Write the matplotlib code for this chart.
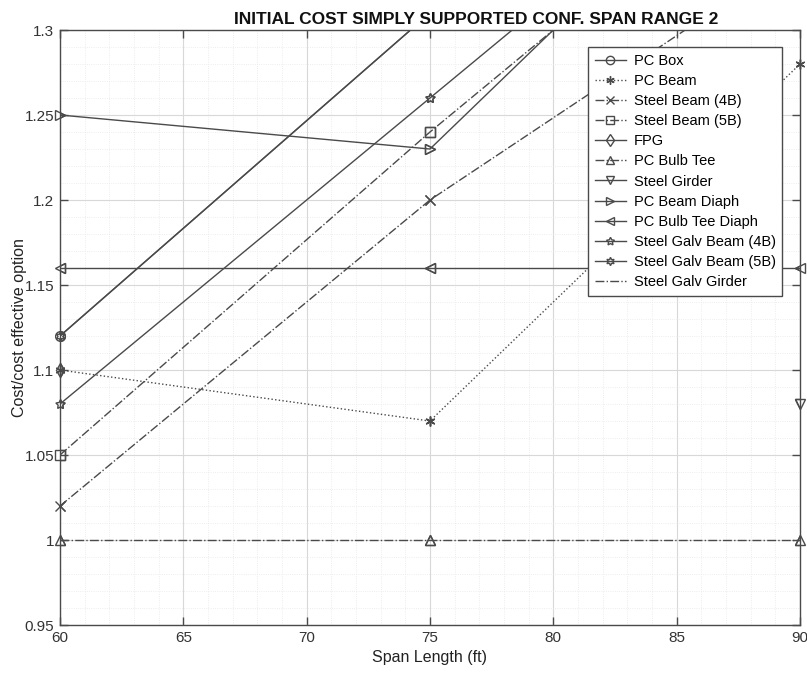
import numpy as np
import matplotlib
matplotlib.use("Agg")
import matplotlib.pyplot as plt

span = [60, 75, 90]
nan = np.nan

pc_box = [1.12, 1.31, 1.45]
pc_beam = [1.10, 1.07, 1.28]
steel_beam_4b = [1.02, 1.20, 1.345]
steel_beam_5b = [1.05, 1.24, 1.42]
fpg = [1.10, nan, nan]
pc_bulb_tee = [1.00, 1.00, 1.00]
steel_girder = [nan, nan, 1.08]
pc_beam_diaph = [1.25, 1.23, 1.44]
pc_bulb_tee_diaph = [1.16, 1.16, 1.16]
steel_galv_beam_4b = [1.08, 1.26, 1.44]
steel_galv_beam_5b = [1.12, 1.31, 1.45]
steel_galv_girder = [nan, nan, 1.35]

series = [
    ("PC Box", pc_box, "-", "o"),
    ("PC Beam", pc_beam, ":", (6, 2, 0)),
    ("Steel Beam (4B)", steel_beam_4b, "-.", "x"),
    ("Steel Beam (5B)", steel_beam_5b, "-.", "s"),
    ("FPG", fpg, "-", "d"),
    ("PC Bulb Tee", pc_bulb_tee, "-.", "^"),
    ("Steel Girder", steel_girder, "-", "v"),
    ("PC Beam Diaph", pc_beam_diaph, "-", ">"),
    ("PC Bulb Tee Diaph", pc_bulb_tee_diaph, "-", "<"),
    ("Steel Galv Beam (4B)", steel_galv_beam_4b, "-", (5, 1, 0)),
    ("Steel Galv Beam (5B)", steel_galv_beam_5b, "-", (6, 1, 0)),
    ("Steel Galv Girder", steel_galv_girder, "-.", None),
]

yticks = [0.95, 1.0, 1.05, 1.1, 1.15, 1.2, 1.25, 1.3]
ytick_labels = ["0.95", "1", "1.05", "1.1", "1.15", "1.2", "1.25", "1.3"]
xticks = [60, 65, 70, 75, 80, 85, 90]

plt.rcParams['font.family'] = ['Liberation Sans', 'DejaVu Sans']
color = "#4a4a4a"

fig = plt.figure(figsize=(8.07, 6.79), dpi=100)
fig.patch.set_facecolor("white")
ax = fig.add_axes([0.0743, 0.0795, 0.917, 0.8763])
ylo, yhi = 0.95, 1.3

for name, vals, ls, mk in series:
    v = np.array(vals, dtype=float)
    ms = 7
    ax.plot(span, v, linestyle=ls, marker=mk, color=color, lw=1.0,
            markersize=ms, markerfacecolor="none", markeredgecolor=color,
            markeredgewidth=1.0, label=name, clip_on=True)
    if mk is not None:
        inside = np.where((v >= ylo - 1e-9) & (v <= yhi + 1e-9), v, np.nan)
        ax.plot(span, inside, linestyle="none", marker=mk, color=color,
                markersize=ms, markerfacecolor="none", markeredgecolor=color,
                markeredgewidth=1.0, label="_nolegend_", clip_on=False, zorder=5)

ax.set_xlim(60, 90)
ax.set_ylim(ylo, yhi)
ax.set_xticks(xticks)
ax.set_xticklabels([str(t) for t in xticks])
ax.set_yticks(yticks)
ax.set_yticklabels(ytick_labels)
ax.set_xticks(np.arange(60, 91, 1), minor=True)
ax.set_yticks(np.arange(0.95, 1.3001, 0.01), minor=True)
ax.grid(which="major", color="#d8d8d8", lw=0.8)
ax.grid(which="minor", color="#e8e8e8", lw=0.6, linestyle=":")
ax.set_axisbelow(True)
ax.tick_params(which="major", direction="in", length=6, top=True, right=True,
               labelsize=11, labelcolor="#333333", color="#4a4a4a", width=1, pad=4)
ax.tick_params(which="minor", length=0, top=True, right=True)
for sp in ax.spines.values():
    sp.set_color("#4a4a4a")
    sp.set_linewidth(1.0)

ax.set_xlabel("Span Length (ft)", fontsize=11.5, color="#222222", labelpad=4)
ax.set_ylabel("Cost/cost effective option", fontsize=11.5, color="#222222")
ax.yaxis.set_label_coords(-0.045, 0.5)
ax.set_title("INITIAL COST SIMPLY SUPPORTED CONF. SPAN RANGE 2", fontsize=12.5,
             fontweight="bold", color="#111111", pad=4, x=0.562)

leg = ax.legend(loc="upper right", bbox_to_anchor=(0.976, 0.971), fontsize=10.5,
                frameon=True, fancybox=False, edgecolor="#4a4a4a",
                handlelength=2.1, labelspacing=0.42, borderpad=0.45,
                handletextpad=0.55, borderaxespad=0.0)
leg.get_frame().set_linewidth(1.0)
leg.get_frame().set_alpha(1.0)
for h in leg.legend_handles:
    try:
        h.set_markersize(6)
    except Exception:
        pass

fig.savefig("out.png", dpi=100, facecolor="white")
